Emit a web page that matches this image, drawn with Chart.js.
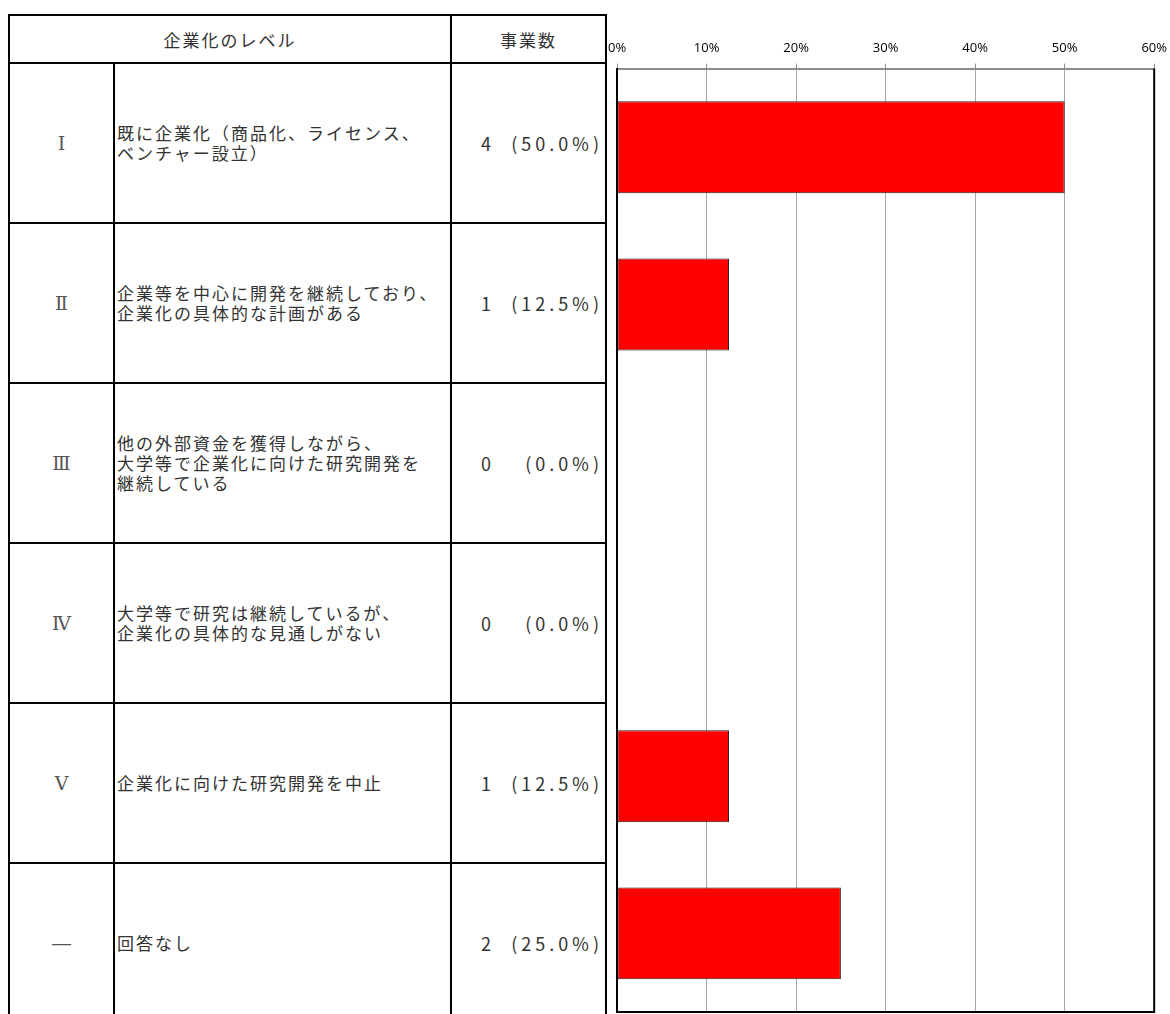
<!DOCTYPE html>
<html lang="ja">
<head>
<meta charset="utf-8">
<script src="https://cdn.jsdelivr.net/npm/chart.js@4"></script>
<style>
  html, body { margin: 0; padding: 0; background: #fff; }
  body { width: 1170px; height: 1014px; position: relative; overflow: hidden; }
  #level-table {
    position: absolute; left: 8px; top: 14px;
    border-collapse: collapse; table-layout: fixed;
    font-family: "Noto Sans CJK JP", sans-serif; font-size: 17px; color: #333;
    letter-spacing: 2px;
  }
  #level-table td, #level-table th { border: 2px solid #000; padding: 0; }
  #level-table th { font-weight: normal; height: 46px; }
  #level-table td { height: 158px; }
  .lv { text-align: center; font-family: "DejaVu Serif", serif; font-size: 19px; color: #555; letter-spacing: 0; }
  .desc { padding-left: 2px !important; line-height: 20px; }
  .cnt { text-align: right; padding-right: 6px !important; white-space: nowrap; font-size: 18px; letter-spacing: 0; }
  .cnt .n { display: inline-block; width: 26px; text-align: left; }
  .cnt .p { display: inline-block; width: 96px; text-align: right; letter-spacing: 4px; margin-right: -4px; }
  #chart-wrap { position: absolute; left: 600px; top: 0; width: 575px; height: 1014px; }
</style>
</head>
<body>
<table id="level-table">
  <colgroup><col style="width:105px"><col style="width:337px"><col style="width:155px"></colgroup>
  <thead><tr><th colspan="2">企業化のレベル</th><th>事業数</th></tr></thead>
  <tbody id="table-body"></tbody>
</table>
<div id="chart-wrap"><canvas id="level-chart"></canvas></div>
<script>
// Table / chart data
const levels = ['Ⅰ', 'Ⅱ', 'Ⅲ', 'Ⅳ', 'Ⅴ', '―'];
const descriptions = [
  '既に企業化（商品化、ライセンス、<br>ベンチャー設立）',
  '企業等を中心に開発を継続しており、<br>企業化の具体的な計画がある',
  '他の外部資金を獲得しながら、<br>大学等で企業化に向けた研究開発を<br>継続している',
  '大学等で研究は継続しているが、<br>企業化の具体的な見通しがない',
  '企業化に向けた研究開発を中止',
  '回答なし'
];
const counts = [4, 1, 0, 0, 1, 2];
const shares = [50.0, 12.5, 0.0, 0.0, 12.5, 25.0];
const xTicks = [0, 10, 20, 30, 40, 50, 60];

// Build table rows
const tbody = document.getElementById('table-body');
levels.forEach((lv, i) => {
  const tr = document.createElement('tr');
  tr.innerHTML = `
    <td class="lv">${lv}</td>
    <td class="desc">${descriptions[i]}</td>
    <td class="cnt"><span class="n">${counts[i]}</span><span class="p">(${shares[i].toFixed(1)}%)</span></td>`;
  tbody.appendChild(tr);
});

// Black frame on right and bottom of plot area
const frame = {
  id: 'frame',
  afterDraw(chart) {
    const { ctx, chartArea: a } = chart;
    ctx.save();
    ctx.strokeStyle = '#000';
    ctx.lineWidth = 2;
    ctx.beginPath();
    ctx.moveTo(a.right, a.top);
    ctx.lineTo(a.right, a.bottom);
    ctx.lineTo(a.left, a.bottom);
    ctx.stroke();
    ctx.restore();
  }
};

new Chart(document.getElementById('level-chart'), {
  type: 'bar',
  data: {
    labels: levels,
    datasets: [{
      data: shares,
      backgroundColor: '#ff0000',
      borderColor: '#222',
      borderWidth: 1,
      borderSkipped: false,
      barPercentage: 0.585,
      categoryPercentage: 1
    }]
  },
  options: {
    responsive: true,
    maintainAspectRatio: false,
    animation: false,
    indexAxis: 'y',
    layout: { padding: { top: 32, right: 0, bottom: 2, left: 0 } },
    scales: {
      x: {
        position: 'top',
        min: 0,
        max: 60,
        afterBuildTicks: axis => { axis.ticks = xTicks.map(v => ({ value: v })); },
        ticks: {
          color: '#000',
          padding: 8,
          font: { family: 'Open Sans', size: 13 },
          callback: v => v + '%'
        },
        grid: { color: '#a6a6a6', lineWidth: 1, tickLength: 5, tickColor: '#8c8c8c' },
        border: { color: '#8c8c8c', width: 2 }
      },
      y: {
        ticks: { display: false },
        grid: { display: false },
        border: { color: '#000', width: 2 }
      }
    },
    plugins: {
      legend: { display: false },
      tooltip: { enabled: false }
    }
  },
  plugins: [frame]
});
</script>
</body>
</html>
